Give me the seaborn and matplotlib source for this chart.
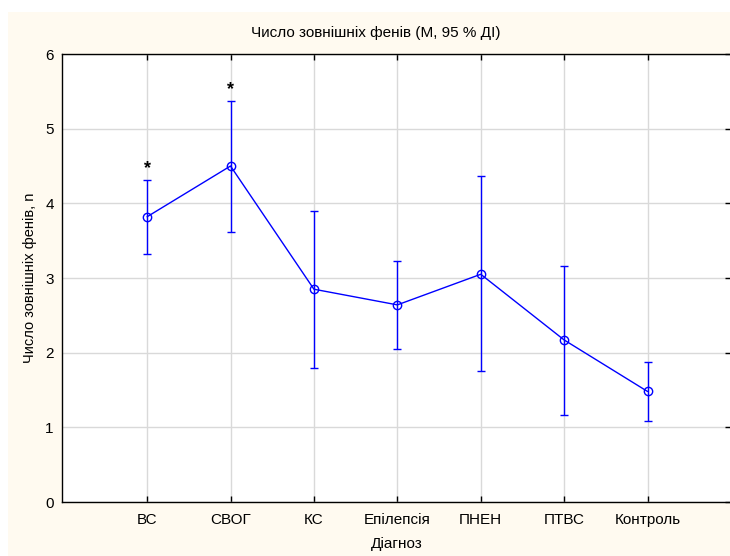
import matplotlib
matplotlib.use("Agg")
import matplotlib.pyplot as plt
import seaborn as sns
import pandas as pd
import numpy as np
from matplotlib.patches import Rectangle

# Mean number of external phenes per diagnosis group with 95 % CI bounds
diagnoses = ["ВС", "СВОГ", "КС", "Епілепсія", "ПНЕН", "ПТВС", "Контроль"]
means = [3.82, 4.50, 2.85, 2.64, 3.05, 2.17, 1.48]
ci_upper = [4.31, 5.37, 3.90, 3.23, 4.36, 3.16, 1.87]
ci_lower = [3.32, 3.62, 1.79, 2.05, 1.75, 1.17, 1.08]
significant = [True, True, False, False, False, False, False]

title = "Число зовнішніх фенів (M, 95 % ДІ)"
y_label = "Число зовнішніх фенів, n"
x_label = "Діагноз"

sns.set_theme(style="white")
plt.rcParams["font.family"] = ["Liberation Sans", "DejaVu Sans"]

blue = "#0000ff"
cream = "#fffaf0"

fig = plt.figure(figsize=(7.30, 5.56), dpi=100)
fig.patch.set_facecolor("white")
fig.patches.append(Rectangle((8 / 730, 0), 1, (556 - 12) / 556,
                             transform=fig.transFigure, facecolor=cream,
                             edgecolor="none", zorder=-10))

# plot frame: left spine at x=62 px, right spine just beyond the canvas edge
ax = fig.add_axes([62 / 730, (556 - 502) / 556, (731 - 62) / 730, 448 / 556])
ax.set_facecolor("white")

df = pd.DataFrame({
    "pos": np.arange(1, len(diagnoses) + 1),
    "mean": means,
    "lo": ci_lower,
    "hi": ci_upper,
})

ax.errorbar(df["pos"], df["mean"],
            yerr=[df["mean"] - df["lo"], df["hi"] - df["mean"]],
            fmt="none", ecolor=blue, elinewidth=1.0, capsize=3.2,
            capthick=1.0, zorder=3)
sns.lineplot(data=df, x="pos", y="mean", ax=ax, color=blue, linewidth=1.0,
             marker="o", markersize=6, markerfacecolor="none",
             markeredgecolor=blue, markeredgewidth=1.0, zorder=4)

for p, hi, sig in zip(df["pos"], df["hi"], significant):
    if sig:
        ax.text(p, hi + 0.15, "*", ha="center", va="center",
                fontsize=13, fontweight="bold", color="black")

ax.set_xlim(-0.02, 8.0)
ax.set_ylim(0, 6)
ax.set_xticks(df["pos"])
ax.set_xticklabels(diagnoses)
ax.set_yticks(range(0, 7))
ax.grid(True, color="#d9d9d9", linewidth=1.0)
ax.set_axisbelow(True)

for s in ax.spines.values():
    s.set_color("black")
    s.set_linewidth(1.0)

ax.tick_params(axis="x", direction="in", length=4, width=1, color="black",
               top=True, bottom=True, labelsize=11, pad=8, labelcolor="black")
ax.tick_params(axis="y", direction="in", length=4, width=1, color="black",
               left=False, right=True, labelsize=11, pad=6, labelcolor="black")

ax.set_xlabel(x_label, fontsize=11, color="black", labelpad=7)
ax.set_ylabel(y_label, fontsize=10.5, color="black", labelpad=6)
fig.text(376 / 730, (556 - 33) / 556, title,
         ha="center", va="center", fontsize=11, color="black")

fig.savefig("out.png", dpi=100, facecolor=fig.get_facecolor())
